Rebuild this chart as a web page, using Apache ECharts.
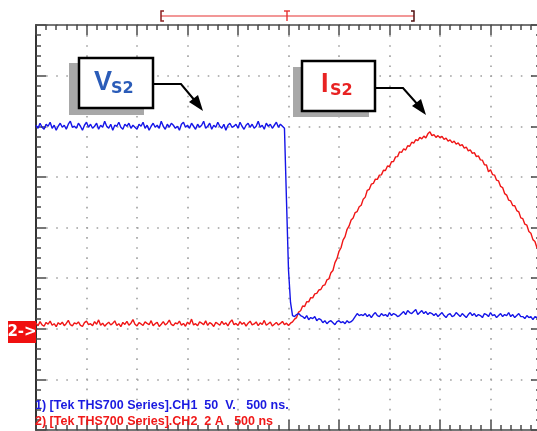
<!DOCTYPE html>
<html>
<head>
<meta charset="utf-8">
<script src="https://cdn.jsdelivr.net/npm/echarts@6/dist/echarts.min.js"></script>
<style>
html,body{margin:0;padding:0;background:#fff;}
#chart{width:537px;height:431px;}
</style>
</head>
<body>
<div id="chart"></div>
<script>
// Oscilloscope sample clock (ns): first sample and spacing
const sampleStartNs = -2500;
const sampleStepNs = 20;

// Axis scales (per channel): 500 ns/div, CH1 50 V/div, CH2 2 A/div
const timeTicksNs = [-2500, 2500, 500];
const voltTicks = [-100, 300, 50];
const ampTicks = [-4, 12, 2];

// CH1: V_S2 (volts), one value per sample
const vs2Volts = [
201,198,203,199,197,202,200,204,198,201,
196,200,203,199,201,197,202,205,199,200,
198,203,200,196,201,204,199,202,198,200,
203,197,201,199,205,200,198,202,196,201,
200,204,199,197,202,200,203,198,201,199,
197,202,200,204,198,201,196,200,203,199,
201,198,205,200,197,202,199,203,201,198,
200,196,202,204,199,201,198,203,200,197,
202,199,201,205,198,200,203,197,201,199,
204,200,198,202,196,201,203,199,200,202,
198,204,200,197,201,203,199,202,198,200,
205,199,201,197,203,200,202,198,201,204,
199,202,200,
198,127,58,26,13,
12,14,15,13,
12,10,13,9,11,10,12,8,10,
9,6,8,5,7,8,6,4,7,8,6,7,5,8,6,7,9,
12,15,13,14,
13,15,12,14,11,14,16,13,12,15,13,14,12,16,13,15,14,12,13,
15,17,14,18,16,15,17,19,14,16,18,15,17,14,16,15,
13,15,12,14,16,13,11,14,15,12,13,16,14,12,15,13,11,14,16,13,15,12,14,13,11,15,14,12,16,13,14,11,13,15,12,14,13,16,12,14,11,13,15,12,
12,10,13,11,12,9,12,11,13,11
];

// CH2: I_S2 (amps), one value per sample
const is2Amps = [
0.22,0.12,0.28,0.15,0.10,0.25,0.18,0.30,0.14,0.20,
0.08,0.24,0.17,0.26,0.12,0.21,0.33,0.16,0.11,0.23,
0.19,0.27,0.13,0.09,0.24,0.30,0.16,0.20,0.12,0.28,
0.18,0.35,0.14,0.22,0.10,0.19,0.26,0.15,0.21,0.31,
0.13,0.20,0.08,0.25,0.17,0.29,0.14,0.22,0.36,0.18,
0.11,0.24,0.19,0.13,0.27,0.21,0.16,0.32,0.12,0.20,
0.25,0.09,0.18,0.28,0.15,0.22,0.34,0.17,0.12,0.23,
0.19,0.30,0.14,0.21,0.10,0.26,0.18,0.38,0.15,0.20,
0.12,0.27,0.22,0.16,0.31,0.13,0.24,0.19,0.09,0.25,
0.20,0.14,0.29,0.17,0.23,0.11,0.26,0.35,0.16,0.21,
0.13,0.28,0.18,0.24,0.10,0.22,0.30,0.15,0.19,0.27,
0.12,0.23,0.17,0.33,0.14,0.20,0.26,0.11,0.18,0.25,
0.15,0.21,0.29,0.16,0.22,0.13,0.22,0.27,
0.38,0.44,0.66,0.71,0.90,0.88,1.07,1.06,1.23,1.22,
1.38,1.40,1.53,1.55,1.70,1.73,1.93,1.97,2.21,2.30,
2.61,2.77,3.06,3.20,3.50,3.64,3.93,4.06,4.30,4.38,
4.59,4.63,4.82,4.88,5.12,5.20,5.47,5.51,5.71,5.74,
5.91,5.90,6.07,6.08,6.26,6.25,6.43,6.41,6.60,6.61,
6.79,6.80,6.99,6.97,7.11,7.06,7.23,7.21,7.37,7.33,
7.47,7.43,7.56,7.50,7.61,7.54,7.70,7.78,7.63,7.67,
7.56,7.63,7.54,7.60,7.48,7.53,7.41,7.46,7.35,7.41,
7.29,7.34,7.23,7.27,7.14,7.18,7.03,7.07,6.93,6.96,
6.80,6.83,6.67,6.66,6.48,6.47,6.20,6.28,6.09,6.07,
5.87,5.84,5.62,5.58,5.34,5.28,5.08,5.05,4.87,4.86,
4.67,4.62,4.38,4.35,4.13,4.09,3.84,3.77,3.52,3.45,
3.20,3.15,2.92
];

const annotationLabels = [
  {main: 'V', sub: 'S2', color: '#2b5cb8'},
  {main: 'I', sub: 'S2', color: '#e82222'}
];
const footerLines = [
  '1) [Tek THS700 Series].CH1  50  V.   500 ns.',
  '2) [Tek THS700 Series].CH2  2 A   500 ns'
];
const groundMarkerText = '2->';

// ---- build series data ----
const vs2Data = vs2Volts.map((v, i) => [sampleStartNs + i * sampleStepNs, v]);
const is2Data = is2Amps.map((v, i) => [sampleStartNs + i * sampleStepNs, v]);

const chart = echarts.init(document.getElementById('chart'), null, {renderer: 'canvas'});

const borderColor = '#4a4a4a';
function axisCommon(range, extra) {
  return Object.assign({
    type: 'value',
    min: range[0], max: range[1], interval: range[2],
    axisLine: {show: true, onZero: false, lineStyle: {color: borderColor, width: 1.6}},
    axisTick: {show: true, inside: true, length: 10, lineStyle: {color: borderColor, width: 1.5}},
    minorTick: {show: true, splitNumber: 5, length: 5, lineStyle: {color: borderColor, width: 1.5}},
    axisLabel: {show: false},
    splitLine: {show: false},
    minorSplitLine: {show: false}
  }, extra || {});
}
const dotted = {show: true, lineStyle: {color: '#a0a0a0', width: 1.6, type: [1.6, 8.5]}};

const option = {
  animation: false,
  backgroundColor: '#ffffff',
  grid: {left: 36, top: 25, width: 505, height: 405, containLabel: false, outerBoundsMode: 'none'},
  xAxis: [
    axisCommon(timeTicksNs, {position: 'bottom', splitLine: dotted}),
    axisCommon(timeTicksNs, {position: 'top'})
  ],
  yAxis: [
    axisCommon(voltTicks, {position: 'left', splitLine: dotted, axisLine: {show: true, onZero: false, lineStyle: {color: '#333', width: 2}}}),
    axisCommon(ampTicks, {position: 'right'})
  ],
  series: [
    {
      name: 'I_S2', type: 'line', xAxisIndex: 0, yAxisIndex: 1,
      data: is2Data, showSymbol: false, symbol: 'none',
      lineStyle: {color: '#f01616', width: 1.4}, z: 3
    },
    {
      name: 'V_S2', type: 'line', xAxisIndex: 0, yAxisIndex: 0,
      data: vs2Data, showSymbol: false, symbol: 'none',
      lineStyle: {color: '#1515e8', width: 1.4}, z: 4
    }
  ],
  graphic: [
    // record-length bracket at top
    {type: 'line', shape: {x1: 161, y1: 16, x2: 414, y2: 16}, style: {stroke: '#e53030', lineWidth: 1.2}, z: 10},
    {type: 'polyline', shape: {points: [[164, 11], [161, 11], [161, 21], [164, 21]]}, style: {stroke: '#8a2020', lineWidth: 1.5, fill: null}, z: 10},
    {type: 'polyline', shape: {points: [[411, 11], [414, 11], [414, 21], [411, 21]]}, style: {stroke: '#501010', lineWidth: 1.5, fill: null}, z: 10},
    {type: 'line', shape: {x1: 287, y1: 11, x2: 287, y2: 21}, style: {stroke: '#e53030', lineWidth: 1.4}, z: 10},
    {type: 'line', shape: {x1: 284, y1: 11, x2: 290, y2: 11}, style: {stroke: '#e53030', lineWidth: 1.4}, z: 10},

    // V_S2 annotation
    {type: 'rect', shape: {x: 69, y: 63, width: 75, height: 52}, style: {fill: '#a8a8a8'}, z: 20},
    {type: 'rect', shape: {x: 79, y: 58, width: 74, height: 50}, style: {fill: '#ffffff', stroke: '#000', lineWidth: 2.5}, z: 21},
    {type: 'text', x: 94, y: 69, style: {text: annotationLabels[0].main, fill: annotationLabels[0].color, font: 'bold 27px "Liberation Sans"'}, z: 22},
    {type: 'text', x: 111, y: 81, style: {text: annotationLabels[0].sub, fill: annotationLabels[0].color, font: 'bold 16px "DejaVu Sans"'}, z: 22},
    {type: 'polyline', shape: {points: [[153, 84], [181, 84], [196, 102]]}, style: {stroke: '#000', lineWidth: 2, fill: null}, z: 22},
    {type: 'polygon', shape: {points: [[203, 111], [189, 102], [198, 95]]}, style: {fill: '#000'}, z: 22},

    // I_S2 annotation
    {type: 'rect', shape: {x: 293, y: 67, width: 76, height: 50}, style: {fill: '#a8a8a8'}, z: 20},
    {type: 'rect', shape: {x: 302, y: 61, width: 73, height: 50}, style: {fill: '#ffffff', stroke: '#000', lineWidth: 2.5}, z: 21},
    {type: 'text', x: 321, y: 71, style: {text: annotationLabels[1].main, fill: annotationLabels[1].color, font: 'bold 27px "Liberation Sans"'}, z: 22},
    {type: 'text', x: 330, y: 83, style: {text: annotationLabels[1].sub, fill: annotationLabels[1].color, font: 'bold 16px "DejaVu Sans"'}, z: 22},
    {type: 'polyline', shape: {points: [[375, 88], [403, 88], [419, 106]]}, style: {stroke: '#000', lineWidth: 2, fill: null}, z: 22},
    {type: 'polygon', shape: {points: [[426, 115], [412, 106], [421, 99]]}, style: {fill: '#000'}, z: 22},

    // ground marker for CH2
    {type: 'rect', shape: {x: 8, y: 321, width: 28, height: 22}, style: {fill: '#f01010'}, z: 20},
    {type: 'text', x: 22, y: 332, style: {text: groundMarkerText, fill: '#fff', font: 'bold 15px "DejaVu Sans"', align: 'center', verticalAlign: 'middle'}, z: 21},

    // footer captions
    {type: 'text', x: 35, y: 406, style: {text: footerLines[0], fill: '#1a1ae0', font: 'bold 12.5px "Liberation Sans"', verticalAlign: 'middle'}, z: 30},
    {type: 'text', x: 35, y: 422, style: {text: footerLines[1], fill: '#f01818', font: 'bold 12.5px "Liberation Sans"', verticalAlign: 'middle'}, z: 30}
  ]
};
chart.setOption(option);
</script>
</body>
</html>
